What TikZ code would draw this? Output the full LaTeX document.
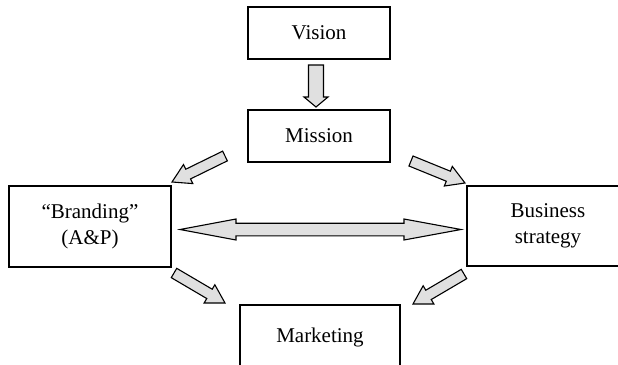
\documentclass[tikz,border=0pt]{standalone}
\usepackage{fontspec}
\setmainfont{Liberation Serif}
\usetikzlibrary{calc}
\newcommand{\blockarr}[5]{%
  \coordinate (hb) at ($(#2)!#5!(#1)$);
  \draw[arr] ($(#1)!#3!90:(#2)$) -- ($(hb)!#3!90:(#2)$) -- ($(hb)!#4!90:(#2)$) -- (#2)
    -- ($(hb)!#4!-90:(#2)$) -- ($(hb)!#3!-90:(#2)$) -- ($(#1)!#3!-90:(#2)$) -- cycle;}
\begin{document}
\begin{tikzpicture}[x=0.5pt,y=-0.5pt,
  box/.style={draw, line width=0.6pt, inner sep=0pt, align=center,
    font=\fontsize{10.5}{13}\selectfont},
  arr/.style={draw, fill=black!12, line width=0.55pt, line join=miter}]
\useasboundingbox (0,0) rectangle (618,365);
\clip (0,0) rectangle (618,365);
\node[box, minimum width=71pt, minimum height=26pt] (vision) at (319,33) {Vision};
\node[box, minimum width=71pt, minimum height=26pt] (mission) at (319,136) {Mission};
\node[box, minimum width=81pt, minimum height=40.5pt] (branding) at (90,226.5) {``Branding''\\(A\&P)};
\node[box, minimum width=81pt, minimum height=40pt] (business) at (548,226) {Business\\strategy};
\node[box, minimum width=80pt, minimum height=32pt] (marketing) at (320,337) {Marketing};
% vertical arrow
\coordinate (vt) at (316,65);
\coordinate (vh) at (316,107);
\blockarr{vt}{vh}{3.75pt}{6pt}{5pt}
% diagonal arrows
\coordinate (a1t) at (225,156); \coordinate (a1h) at (172,182);
\coordinate (a2t) at (411,161); \coordinate (a2h) at (465,183);
\coordinate (a3t) at (174,273); \coordinate (a3h) at (225,303);
\coordinate (a4t) at (464,274); \coordinate (a4h) at (413,304);
\blockarr{a1t}{a1h}{2.7pt}{5.3pt}{9pt}
\blockarr{a2t}{a2h}{2.7pt}{5.3pt}{9pt}
\blockarr{a3t}{a3h}{2.7pt}{5.3pt}{9pt}
\blockarr{a4t}{a4h}{2.7pt}{5.3pt}{9pt}
% double arrow
\coordinate (dl) at (180,229.5);
\coordinate (dr) at (461,229.5);
\draw[arr] (dl) -- (236,219) -- (236,223.2) -- (404,223.2) -- (404,219) -- (dr)
  -- (404,240) -- (404,235.8) -- (236,235.8) -- (236,240) -- cycle;
\end{tikzpicture}
\end{document}
